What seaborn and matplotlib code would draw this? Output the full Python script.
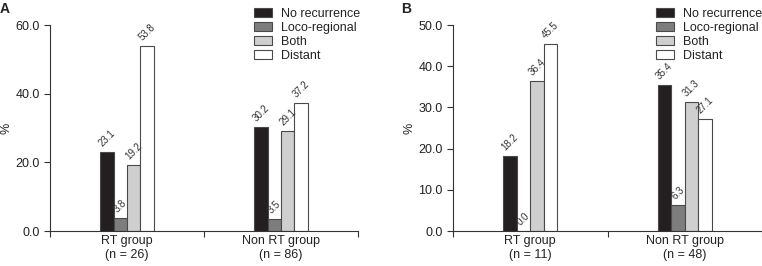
import matplotlib
matplotlib.use("Agg")
import matplotlib.pyplot as plt
import seaborn as sns
import pandas as pd
from matplotlib.ticker import FixedLocator, FormatStrFormatter

sns.set_style("white")
plt.rcParams['font.family'] = ['Liberation Sans', 'DejaVu Sans']

series = ["No recurrence", "Loco-regional", "Both", "Distant"]
colors = ["#231f20", "#7d7d7d", "#cfcfcf", "#ffffff"]

groups_a = ["RT group\n(n = 26)", "Non RT group\n(n = 86)"]
values_a = {
    "No recurrence": [23.1, 30.2],
    "Loco-regional": [3.8, 3.5],
    "Both": [19.2, 29.1],
    "Distant": [53.8, 37.2],
}
groups_b = ["RT group\n(n = 11)", "Non RT group\n(n = 48)"]
values_b = {
    "No recurrence": [18.2, 35.4],
    "Loco-regional": [0.0, 6.3],
    "Both": [36.4, 31.3],
    "Distant": [45.5, 27.1],
}
yticks_a = [0, 20, 40, 60]
yticks_b = [0, 10, 20, 30, 40, 50]

W, H = 762, 266
fig = plt.figure(figsize=(W / 100, H / 100), dpi=100)

def frame(groups, values):
    rows = []
    for s in series:
        for g, v in zip(groups, values[s]):
            rows.append({"group": g, "type": s, "value": v})
    return pd.DataFrame(rows)

def panel(rect, groups, values, yticks, letter, letter_x, legend_x):
    ax = fig.add_axes(rect)
    df = frame(groups, values)
    sns.barplot(data=df, x="group", y="value", hue="type", order=groups,
                hue_order=series, palette=colors, width=0.35, ax=ax,
                edgecolor="#4a4a4a", linewidth=0.8, saturation=1)
    for c in ax.containers:
        ax.bar_label(c, fmt="%.1f", padding=2.5, rotation=45, fontsize=7,
                     color="#333333")
    ax.set_xlim(-0.5, 1.5)
    ax.set_ylim(0, yticks[-1])
    ax.set_yticks(yticks)
    ax.yaxis.set_major_formatter(FormatStrFormatter("%.1f"))
    ax.set_xlabel("")
    ax.set_ylabel("%", fontsize=9, color="#222222", labelpad=2)
    ax.xaxis.set_minor_locator(FixedLocator([-0.5, 0.5, 1.5]))
    ax.tick_params(axis="x", which="major", length=0, labelsize=9,
                   colors="#222222", pad=3)
    ax.tick_params(axis="x", which="minor", length=4, width=0.8,
                   color="#333333", direction="out", bottom=True)
    ax.tick_params(axis="y", length=4, width=0.8, color="#333333",
                   labelsize=9, labelcolor="#222222", direction="out", left=True)
    for s in ["top", "right"]:
        ax.spines[s].set_visible(False)
    for s in ["left", "bottom"]:
        ax.spines[s].set_color("#333333")
        ax.spines[s].set_linewidth(0.8)
    handles, labels = ax.get_legend_handles_labels()
    ax.legend(handles, labels, loc="upper left",
              bbox_to_anchor=(legend_x / W, 1 - 8 / H),
              bbox_transform=fig.transFigure, frameon=False, fontsize=9,
              handlelength=1.4, handleheight=0.75, handletextpad=0.75,
              labelspacing=0.15, borderpad=0, borderaxespad=0,
              labelcolor="#222222")
    fig.text(letter_x / W, 1 - 2 / H, letter, fontsize=10, fontweight="bold",
             ha="left", va="top", color="#222222")
    return ax

bottom = (H - 231) / H
height = (231 - 25) / H
panel([50 / W, bottom, 308 / W, height], groups_a, values_a, yticks_a, "A", 0, 254)
panel([453 / W, bottom, 309 / W, height], groups_b, values_b, yticks_b, "B", 401, 656)

fig.savefig("out.png", dpi=100)
